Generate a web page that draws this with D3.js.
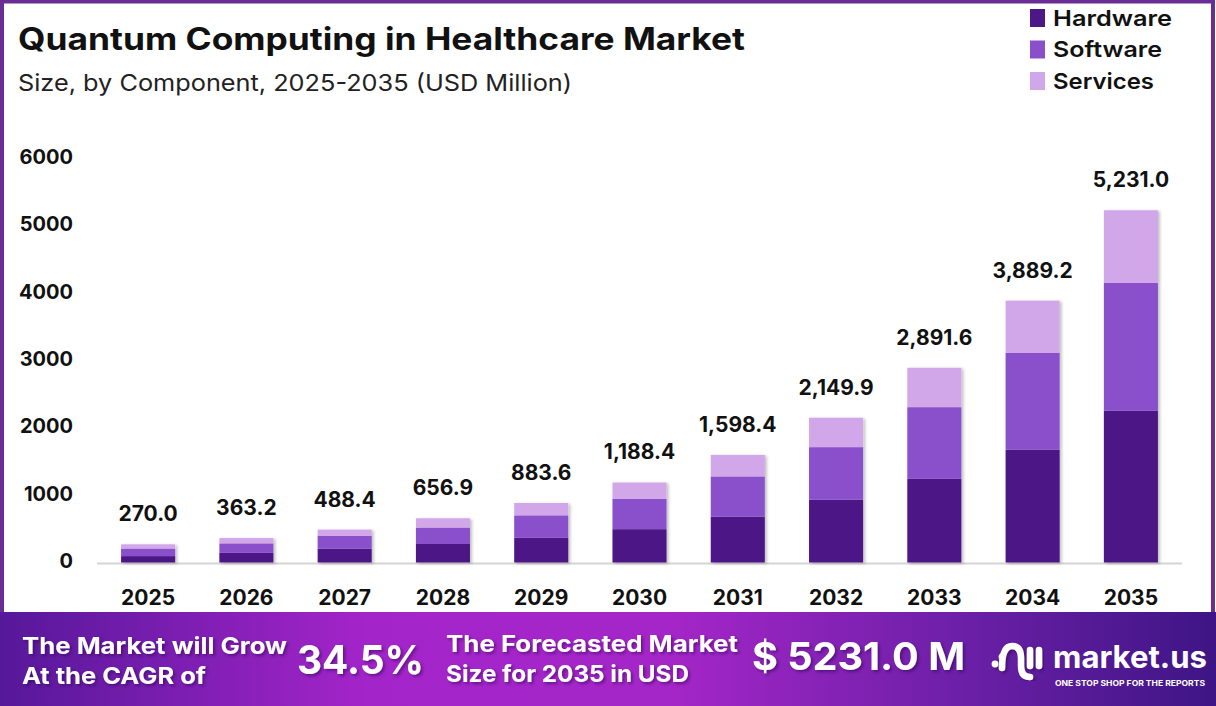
<!DOCTYPE html>
<html lang="en">
<head>
<meta charset="UTF-8">
<title>Quantum Computing in Healthcare Market</title>
<script src="https://d3js.org/d3.v7.min.js"></script>
<style>
    html, body { margin: 0; padding: 0; background: #fff; }
    body { font-family: Inter, "Open Sans", sans-serif; }
    svg text { font-family: Inter, "Open Sans", sans-serif; }
</style>
</head>
<body>
<div id="chart"></div>
<script>
// chart values
const years = ["2025", "2026", "2027", "2028", "2029", "2030", "2031", "2032", "2033", "2034", "2035"];
const hardware = [95, 143, 205, 275, 370, 495, 681, 932, 1243, 1677, 2255];
const software = [112, 141, 189, 244, 330, 449, 597, 781, 1064, 1438, 1899];
const services = [63, 79, 94, 138, 184, 244, 320, 437, 585, 774, 1077];
const totals = [270.0, 363.2, 488.4, 656.9, 883.6, 1188.4, 1598.4, 2149.9, 2891.6, 3889.2, 5231.0];
const yTicks = [0, 1000, 2000, 3000, 4000, 5000, 6000];
const seriesNames = ["Hardware", "Software", "Services"];
const colors = ["#4e1786", "#8a4fcb", "#d2a7e9"];

const W = 1216, H = 706;
const svg = d3.select("#chart").append("svg")
    .attr("width", W).attr("height", H);

const defs = svg.append("defs");
const shadow = defs.append("filter").attr("id", "barShadow")
    .attr("x", "-20%").attr("y", "-20%").attr("width", "140%").attr("height", "140%");
shadow.append("feDropShadow").attr("dx", 2).attr("dy", 1).attr("stdDeviation", 1.5)
    .attr("flood-color", "#000").attr("flood-opacity", 0.25);

const grad = defs.append("linearGradient").attr("id", "bannerGrad")
    .attr("x1", "0%").attr("x2", "100%").attr("y1", "0%").attr("y2", "0%");
[["0%", "#56189a"], ["30%", "#a324c9"], ["55%", "#a526c8"], ["80%", "#6a1fa6"], ["100%", "#3e1585"]]
    .forEach(([o, c]) => grad.append("stop").attr("offset", o).attr("stop-color", c));

const txtShadow = defs.append("filter").attr("id", "txtShadow");
txtShadow.append("feDropShadow").attr("dx", 2).attr("dy", 2).attr("stdDeviation", 1.5)
    .attr("flood-color", "#2a0050").attr("flood-opacity", 0.5);

// frame
svg.append("rect").attr("x", 2).attr("y", 1.5).attr("width", W - 5).attr("height", 640)
    .attr("fill", "#fff").attr("stroke", "#6a2c95").attr("stroke-width", 4);

// title
svg.append("text").attr("x", 18).attr("y", 50)
    .attr("font-size", 31).attr("font-weight", 700).attr("fill", "#111")
    .attr("textLength", 727).attr("lengthAdjust", "spacingAndGlyphs")
    .text("Quantum Computing in Healthcare Market");
svg.append("text").attr("x", 18).attr("y", 91)
    .attr("font-size", 23).attr("font-weight", 400).attr("fill", "#222")
    .attr("textLength", 554).attr("lengthAdjust", "spacingAndGlyphs")
    .text("Size, by Component, 2025-2035 (USD Million)");

// legend
const legend = svg.append("g");
seriesNames.forEach((name, i) => {
    const gy = 18 + i * 31.5;
    legend.append("rect").attr("x", 1030).attr("y", gy - 9).attr("width", 15).attr("height", 18)
        .attr("fill", colors[i]);
    legend.append("text").attr("x", 1053).attr("y", gy).attr("dy", "0.36em")
        .attr("font-size", 22).attr("font-weight", 600).attr("fill", "#111")
        .attr("textLength", [119, 109, 101][i]).attr("lengthAdjust", "spacingAndGlyphs")
        .text(name);
});

// scales
const x = d3.scaleBand().domain(years).range([97, 1182])
    .paddingInner(0.45).paddingOuter(0.245);
const y = d3.scaleLinear().domain([0, 6000]).range([562.5, 158.5]);

// baseline
svg.append("line").attr("x1", 97).attr("x2", 1182)
    .attr("y1", y(0) + 1).attr("y2", y(0) + 1)
    .attr("stroke", "#d4d4d4").attr("stroke-width", 2);

// y axis labels
const yAxis = svg.append("g").attr("transform", "translate(73,-1.5)")
    .call(d3.axisLeft(y).tickValues(yTicks).tickSize(0).tickPadding(0).tickFormat(d3.format("d")));
yAxis.select(".domain").remove();
yAxis.selectAll("text").attr("font-size", 20).attr("font-weight", 700).attr("fill", "#111")
    .style("font-family", "Inter, sans-serif");

// x axis labels
const xAxis = svg.append("g").attr("transform", `translate(0,${y(0) + 28})`)
    .call(d3.axisBottom(x).tickSize(0).tickPadding(0));
xAxis.select(".domain").remove();
xAxis.selectAll("text").attr("font-size", 21).attr("font-weight", 700).attr("fill", "#111")
    .style("font-family", "Inter, sans-serif");

// stacked bars
const rows = years.map((yr, i) => ({ year: yr, Hardware: hardware[i], Software: software[i], Services: services[i] }));
const stacked = d3.stack().keys(seriesNames)(rows);

const barsG = svg.append("g").attr("filter", "url(#barShadow)");
stacked.forEach((layer, li) => {
    barsG.selectAll(null).data(layer).join("rect")
        .attr("x", d => x(d.data.year))
        .attr("width", x.bandwidth())
        .attr("y", d => y(d[1]))
        .attr("height", d => y(d[0]) - y(d[1]))
        .attr("fill", colors[li]);
});

// total labels
const fmt = d3.format(",.1f");
svg.append("g").selectAll("text").data(years).join("text")
    .attr("x", d => x(d) + x.bandwidth() / 2)
    .attr("y", (d, i) => y(totals[i]) - 23)
    .attr("text-anchor", "middle")
    .attr("font-size", 21).attr("font-weight", 700).attr("fill", "#111")
    .text((d, i) => fmt(totals[i]));

// bottom banner
svg.append("rect").attr("x", 0).attr("y", 612).attr("width", W).attr("height", H - 612)
    .attr("fill", "url(#bannerGrad)");

const banner = svg.append("g").attr("fill", "#fff").attr("filter", "url(#txtShadow)");
const bannerText = (tx, ty, size, len, str) => banner.append("text")
    .attr("x", tx).attr("y", ty).attr("font-size", size).attr("font-weight", 700)
    .attr("textLength", len).attr("lengthAdjust", "spacingAndGlyphs").text(str);
bannerText(22, 654, 23, 265, "The Market will Grow");
bannerText(22, 684, 23, 184, "At the CAGR of");
bannerText(297, 674, 40, 127, "34.5%");
bannerText(446, 652, 23, 292, "The Forecasted Market");
bannerText(446, 682, 23, 243, "Size for 2035 in USD");
bannerText(752, 670, 38, 213, "$ 5231.0 M");

// logo
const logo = svg.append("g").attr("fill", "none").attr("stroke", "#fff")
    .attr("stroke-linecap", "round").attr("filter", "url(#txtShadow)");
logo.append("circle").attr("cx", 995).attr("cy", 664).attr("r", 3.4).attr("fill", "#fff").attr("stroke", "none");
logo.append("circle").attr("cx", 1002).attr("cy", 657).attr("r", 3.4).attr("fill", "#fff").attr("stroke", "none");
logo.append("path").attr("stroke-width", 6.5)
    .attr("d", "M1002,668 Q1002,646 1012,646 Q1021,646 1021,658 L1021,666 Q1021,677 1030,677");
logo.append("path").attr("stroke-width", 6.5).attr("d", "M1030,650 L1030,666");
logo.append("path").attr("stroke-width", 6.5).attr("d", "M1039,650 L1039,666");
svg.append("text").attr("x", 1053).attr("y", 668).attr("font-size", 31).attr("font-weight", 700)
    .attr("fill", "#fff").attr("textLength", 154).attr("lengthAdjust", "spacingAndGlyphs").text("market.us");
svg.append("text").attr("x", 1055).attr("y", 686).attr("font-size", 7.5).attr("font-weight", 700)
    .attr("fill", "#fff").attr("textLength", 150).attr("lengthAdjust", "spacingAndGlyphs")
    .text("ONE STOP SHOP FOR THE REPORTS");
</script>
</body>
</html>
